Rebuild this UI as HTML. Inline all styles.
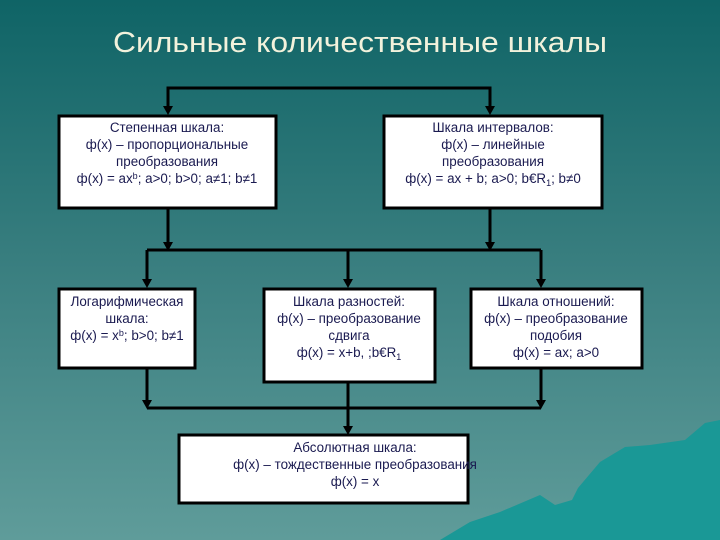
<!DOCTYPE html>
<html><head><meta charset="utf-8"><style>
html,body{margin:0;padding:0;width:720px;height:540px;overflow:hidden}
svg{display:block}
text{font-family:"Liberation Sans",sans-serif}
.t{font-size:13.4px;fill:#1a1a50;text-anchor:middle}
</style></head><body>
<svg width="720" height="540" viewBox="0 0 720 540" xmlns="http://www.w3.org/2000/svg">
<defs>
<linearGradient id="bg" x1="0" y1="0" x2="0" y2="1">
<stop offset="0" stop-color="#0f6466"/>
<stop offset="0.5" stop-color="#3a7f80"/>
<stop offset="1" stop-color="#5f9c9a"/>
</linearGradient>
</defs>
<rect width="720" height="540" fill="url(#bg)"/>
<path d="M440,540 L470,522 L500,512 L540,495 L555,505 L572,500 L578,488 L600,462 L625,447 L650,445 L685,440 L705,423 L720,420 L720,540 Z" fill="#1a9896"/>
<text x="360" y="52" font-size="29" fill="#f2f2dc" text-anchor="middle" textLength="494" lengthAdjust="spacingAndGlyphs">Сильные количественные шкалы</text>
<g stroke="#000" stroke-width="3" fill="none">
<polyline points="168,108 168,88 490,88 490,108"/>
<line x1="168" y1="208" x2="168" y2="244"/>
<line x1="490" y1="208" x2="490" y2="244"/>
<line x1="147" y1="250" x2="541" y2="250"/>
<line x1="147" y1="250" x2="147" y2="281"/>
<line x1="348" y1="250" x2="348" y2="281"/>
<line x1="541" y1="250" x2="541" y2="281"/>
<line x1="147" y1="368" x2="147" y2="402"/>
<line x1="541" y1="368" x2="541" y2="402"/>
<line x1="147" y1="408" x2="541" y2="408"/>
<line x1="348" y1="382" x2="348" y2="428"/>
</g>
<g fill="#000">
<path d="M163,106 L173,106 L168,115 Z"/>
<path d="M485,106 L495,106 L490,115 Z"/>
<path d="M163,242 L173,242 L168,251 Z"/>
<path d="M485,242 L495,242 L490,251 Z"/>
<path d="M142,279 L152,279 L147,288 Z"/>
<path d="M343,279 L353,279 L348,288 Z"/>
<path d="M536,279 L546,279 L541,288 Z"/>
<path d="M142,400 L152,400 L147,409 Z"/>
<path d="M536,400 L546,400 L541,409 Z"/>
<path d="M343,426 L353,426 L348,435 Z"/>
</g>
<g fill="#fff" stroke="#000" stroke-width="3">
<rect x="59" y="116" width="217" height="92"/>
<rect x="384" y="116" width="218" height="92"/>
<rect x="59" y="289" width="136" height="79"/>
<rect x="264" y="289" width="171" height="93"/>
<rect x="471" y="289" width="171" height="79"/>
<rect x="179" y="435" width="289" height="68"/>
</g>
<text class="t" x="167" y="132">Степенная шкала:</text>
<text class="t" x="167" y="149">ф(x) – пропорциональные</text>
<text class="t" x="167" y="166">преобразования</text>
<text class="t" x="167" y="183">ф(x) = ax<tspan dy="-4" font-size="9">b</tspan><tspan dy="4">; a&gt;0; b&gt;0; a≠1; b≠1</tspan></text>
<text class="t" x="493" y="132">Шкала интервалов:</text>
<text class="t" x="493" y="149">ф(x) – линейные</text>
<text class="t" x="493" y="166">преобразования</text>
<text class="t" x="493" y="183">ф(x) = ax + b; a&gt;0; b€R<tspan dy="3" font-size="9">1</tspan><tspan dy="-3">; b≠0</tspan></text>
<text class="t" x="127" y="306">Логарифмическая</text>
<text class="t" x="127" y="323">шкала:</text>
<text class="t" x="127" y="340">ф(x) = x<tspan dy="-4" font-size="9">b</tspan><tspan dy="4">; b&gt;0; b≠1</tspan></text>
<text class="t" x="349" y="306">Шкала разностей:</text>
<text class="t" x="349" y="323">ф(x) – преобразование</text>
<text class="t" x="349" y="340">сдвига</text>
<text class="t" x="349" y="357">ф(x) = x+b, ;b€R<tspan dy="3" font-size="9">1</tspan></text>
<text class="t" x="556" y="306">Шкала отношений:</text>
<text class="t" x="556" y="323">ф(x) – преобразование</text>
<text class="t" x="556" y="340">подобия</text>
<text class="t" x="556" y="357">ф(x) = ax; a&gt;0</text>
<text class="t" x="355" y="452">Абсолютная шкала:</text>
<text class="t" x="355" y="469">ф(x) – тождественные преобразования</text>
<text class="t" x="355" y="486">ф(x) = x</text>
</svg>
</body></html>
